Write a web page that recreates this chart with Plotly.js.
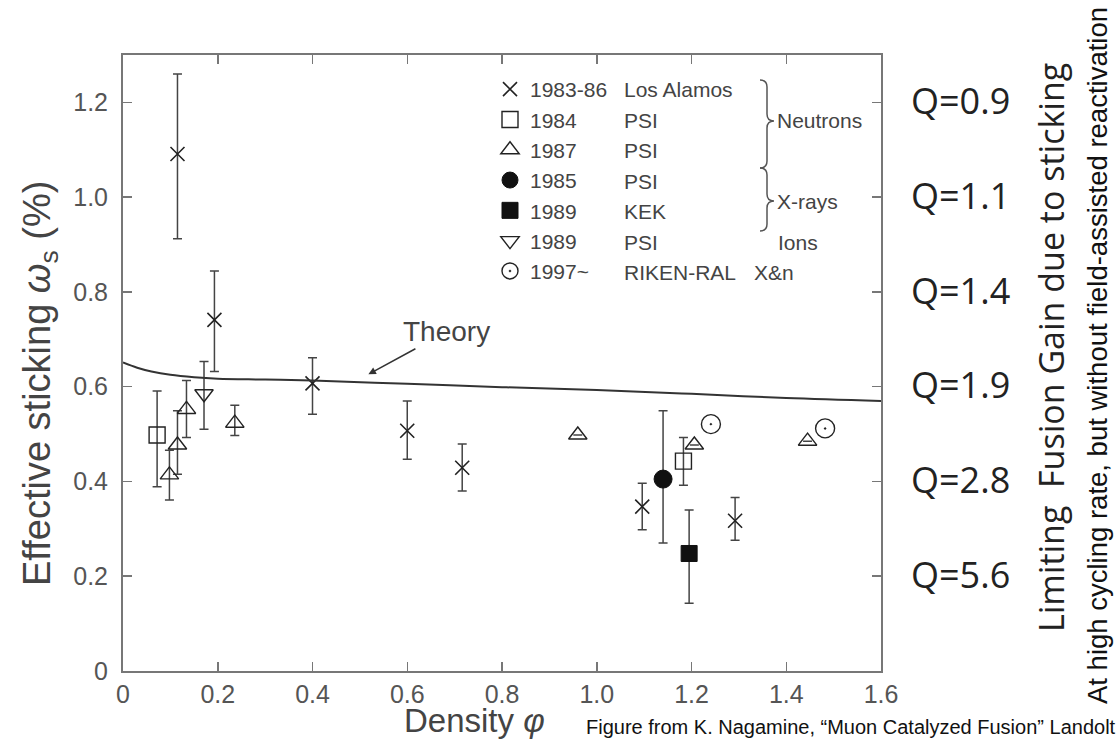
<!DOCTYPE html>
<html>
<head>
<meta charset="utf-8">
<script src="https://cdn.plot.ly/plotly-3.0.1.min.js"></script>
<style>html,body{margin:0;padding:0;background:#fff;}#chart{width:1117px;height:740px;}</style>
</head>
<body>
<div id="chart"></div>
<script>
// ---------------- data ----------------
const xTickVals = [0, 0.2, 0.4, 0.6, 0.8, 1.0, 1.2, 1.4, 1.6];
const xTickText = ["0", "0.2", "0.4", "0.6", "0.8", "1.0", "1.2", "1.4", "1.6"];
const yTickVals = [0, 0.2, 0.4, 0.6, 0.8, 1.0, 1.2];
const yTickText = ["0", "0.2", "0.4", "0.6", "0.8", "1.0", "1.2"];

const qLabels = ["Q=0.9", "Q=1.1", "Q=1.4", "Q=1.9", "Q=2.8", "Q=5.6"];
const qAtSticking = [1.2, 1.0, 0.8, 0.6, 0.4, 0.2];

const seriesYears = ["1983-86", "1984", "1987", "1985", "1989", "1989", "1997~"];
const seriesLabs = ["Los Alamos", "PSI", "PSI", "PSI", "KEK", "PSI", "RIKEN-RAL"];

const losAlamosX = [0.115, 0.193, 0.400, 0.600, 0.716, 1.096, 1.292];
const losAlamosY = [1.091, 0.741, 0.607, 0.507, 0.429, 0.347, 0.317];
const losAlamosErrHi = [0.169, 0.103, 0.054, 0.063, 0.050, 0.049, 0.049];
const losAlamosErrLo = [0.179, 0.109, 0.065, 0.060, 0.049, 0.049, 0.041];

const psi1984X = [0.072, 1.183];
const psi1984Y = [0.498, 0.443];
const psi1984ErrHi = [0.093, 0.050];
const psi1984ErrLo = [0.109, 0.051];

const psi1987X = [0.098, 0.115, 0.134, 0.236, 0.960, 1.206, 1.445];
const psi1987Y = [0.414, 0.477, 0.552, 0.523, 0.498, 0.477, 0.485];
const psi1987ErrHi = [0.052, 0.072, 0.061, 0.038, null, null, null];
const psi1987ErrLo = [0.053, 0.062, 0.059, 0.026, null, null, null];

const psi1985X = [1.140];
const psi1985Y = [0.405];
const psi1985ErrHi = [0.144];
const psi1985ErrLo = [0.135];

const kek1989X = [1.195];
const kek1989Y = [0.248];
const kek1989ErrHi = [0.092];
const kek1989ErrLo = [0.105];

const psi1989X = [0.171];
const psi1989Y = [0.585];
const psi1989ErrHi = [0.068];
const psi1989ErrLo = [0.075];

const rikenX = [1.241, 1.482];
const rikenY = [0.521, 0.512];

const theoryX = [0, 0.03, 0.06, 0.1, 0.15, 0.2, 0.3, 0.4, 0.6, 0.8, 1.0, 1.2, 1.4, 1.6];
const theoryY = [0.651, 0.640, 0.632, 0.625, 0.620, 0.617, 0.615, 0.613, 0.606, 0.599, 0.593, 0.585, 0.576, 0.570];

// ---------------- styling helpers ----------------
const INK = '#222';
const ERR = { color: '#444', thickness: 1.5, width: 4.5 };
function errY(hi, lo) {
  return Object.assign({ type: 'data', symmetric: false, array: hi, arrayminus: lo, visible: true }, ERR);
}

// plot frame in pixels (for layout decorations)
const PL = 123, PR = 881, PT = 55, PB = 671;
const px = X => (X - PL) / (PR - PL);
const py = Y => (PB - Y) / (PB - PT);

const traces = [
  { x: losAlamosX, y: losAlamosY, name: seriesYears[0], mode: 'markers', type: 'scatter',
    marker: { symbol: 'x-thin-open', size: 14, color: INK, line: { color: INK, width: 1.6 } },
    error_y: errY(losAlamosErrHi, losAlamosErrLo) },
  { x: psi1984X, y: psi1984Y, name: seriesYears[1], mode: 'markers', type: 'scatter',
    marker: { symbol: 'square-open', size: 16, color: INK, line: { color: INK, width: 1.4 } },
    error_y: errY(psi1984ErrHi, psi1984ErrLo) },
  { x: psi1987X, y: psi1987Y, name: seriesYears[2], mode: 'markers', type: 'scatter',
    marker: { symbol: 'triangle-up-open', size: 16, color: INK, line: { color: INK, width: 1.4 } },
    error_y: errY(psi1987ErrHi, psi1987ErrLo) },
  { x: psi1985X, y: psi1985Y, name: seriesYears[3], mode: 'markers', type: 'scatter',
    marker: { symbol: 'circle', size: 18, color: '#111', line: { color: '#111', width: 1 } },
    error_y: errY(psi1985ErrHi, psi1985ErrLo) },
  { x: kek1989X, y: kek1989Y, name: seriesYears[4], mode: 'markers', type: 'scatter',
    marker: { symbol: 'square', size: 16, color: '#111', line: { color: '#111', width: 1 } },
    error_y: errY(kek1989ErrHi, kek1989ErrLo) },
  { x: psi1989X, y: psi1989Y, name: seriesYears[5], mode: 'markers', type: 'scatter',
    marker: { symbol: 'triangle-down-open', size: 16, color: INK, line: { color: INK, width: 1.4 } },
    error_y: errY(psi1989ErrHi, psi1989ErrLo) },
  { x: rikenX, y: rikenY, name: seriesYears[6], mode: 'markers', type: 'scatter',
    marker: { symbol: 'circle-open-dot', size: 19, color: INK, line: { color: INK, width: 1.4 } } },
  { x: theoryX, y: theoryY, name: 'Theory', mode: 'lines', type: 'scatter', showlegend: false,
    line: { color: '#333', width: 2, shape: 'spline' } }
];

// legend row centres (pixels) for the lab column
const rowY = [89, 120, 150.5, 181, 211.5, 242, 272.5];
const LEG_FONT = { family: 'Liberation Sans, Arial, sans-serif', size: 21, color: '#444' };

const annotations = [];
seriesLabs.forEach((lab, i) => {
  annotations.push({ xref: 'paper', yref: 'paper', x: px(622), y: py(rowY[i]), xanchor: 'left', yanchor: 'middle',
    text: lab, showarrow: false, font: LEG_FONT });
});
annotations.push({ xref: 'paper', yref: 'paper', x: px(775), y: py(121), xanchor: 'left', yanchor: 'middle', text: 'Neutrons', showarrow: false, font: LEG_FONT });
annotations.push({ xref: 'paper', yref: 'paper', x: px(775), y: py(201), xanchor: 'left', yanchor: 'middle', text: 'X-rays', showarrow: false, font: LEG_FONT });
annotations.push({ xref: 'paper', yref: 'paper', x: px(776), y: py(rowY[5]), xanchor: 'left', yanchor: 'middle', text: 'Ions', showarrow: false, font: LEG_FONT });
annotations.push({ xref: 'paper', yref: 'paper', x: px(752), y: py(rowY[6]), xanchor: 'left', yanchor: 'middle', text: 'X&amp;n', showarrow: false, font: LEG_FONT });

// Theory label with arrow
annotations.push({ xref: 'x', yref: 'y', x: 0.518, y: 0.626, axref: 'x', ayref: 'y', ax: 0.683, ay: 0.716,
  text: 'Theory', showarrow: true, arrowhead: 2, arrowsize: 1, arrowwidth: 1.5, arrowcolor: '#333',
  font: { family: 'Liberation Sans, Arial, sans-serif', size: 28, color: '#444' } });

// Q labels on the right
qLabels.forEach((q, i) => {
  annotations.push({ xref: 'paper', yref: 'y', x: px(909), y: qAtSticking[i] + 0.004, xanchor: 'left', yanchor: 'middle',
    text: q, showarrow: false, font: { family: 'Open Sans, Noto Sans, sans-serif', size: 36, color: '#222' } });
});

// axis titles
annotations.push({ xref: 'paper', yref: 'paper', x: px(40), y: py(384), xanchor: 'center', yanchor: 'middle', textangle: -90,
  text: 'Effective sticking <i>ω</i><sub>s</sub> (%)', showarrow: false,
  font: { family: 'Liberation Sans, Arial, sans-serif', size: 38, color: '#444' } });
annotations.push({ xref: 'paper', yref: 'paper', x: px(474), y: py(720), xanchor: 'center', yanchor: 'middle',
  text: 'Density <i>φ</i>', showarrow: false,
  font: { family: 'Liberation Sans, Arial, sans-serif', size: 33, color: '#444' } });

// right side vertical texts
annotations.push({ xref: 'paper', yref: 'paper', x: px(1051), y: py(348), xanchor: 'center', yanchor: 'middle', textangle: -90,
  text: 'Limiting\u00a0 Fusion Gain due to sticking', showarrow: false,
  font: { family: 'Open Sans, Noto Sans, sans-serif', size: 34, color: '#222' } });
annotations.push({ xref: 'paper', yref: 'paper', x: px(1097), y: py(356), xanchor: 'center', yanchor: 'middle', textangle: -90,
  text: 'At high cycling rate, but without field-assisted reactivation', showarrow: false,
  font: { family: 'Liberation Sans Narrow, Arial Narrow, sans-serif', size: 27.5, color: '#111' } });

// caption
annotations.push({ xref: 'paper', yref: 'paper', x: px(584), y: py(727), xanchor: 'left', yanchor: 'middle',
  text: 'Figure from K. Nagamine, \u201cMuon Catalyzed Fusion\u201d Landolt', showarrow: false,
  font: { family: 'Liberation Sans, Arial, sans-serif', size: 20, color: '#111' } });

// braces for grouping
function brace(x0, w, yTop, yMid, yBot) {
  const xm = x0 + w / 2, xp = x0 + w, r = 7;
  const P = (X, Y) => px(X) + ',' + py(Y);
  return 'M' + P(x0, yTop) + ' Q' + P(xm, yTop) + ' ' + P(xm, yTop + r) +
    ' L' + P(xm, yMid - r) + ' Q' + P(xm, yMid) + ' ' + P(xp, yMid) +
    ' Q' + P(xm, yMid) + ' ' + P(xm, yMid + r) +
    ' L' + P(xm, yBot - r) + ' Q' + P(xm, yBot) + ' ' + P(x0, yBot);
}
const shapes = [
  { type: 'path', xref: 'paper', yref: 'paper', path: brace(760, 14, 80, 121, 168), line: { color: '#555', width: 1.5 } },
  { type: 'path', xref: 'paper', yref: 'paper', path: brace(760, 14, 168, 201, 231), line: { color: '#555', width: 1.5 } }
];

const axisCommon = {
  showline: true, linecolor: '#777', linewidth: 2, mirror: 'ticks',
  ticks: 'inside', ticklen: 9, tickwidth: 1.5, tickcolor: '#777',
  showgrid: false, zeroline: false, tickmode: 'array',
  tickfont: { family: 'Liberation Sans, Arial, sans-serif', size: 25, color: '#555' }
};

const layout = {
  width: 1117, height: 740,
  paper_bgcolor: '#fff', plot_bgcolor: '#fff',
  margin: { l: PL, r: 1117 - PR, t: PT, b: 740 - PB, pad: 0 },
  showlegend: true,
  legend: { x: px(490), y: py(69), xanchor: 'left', yanchor: 'top', bgcolor: 'rgba(0,0,0,0)',
    font: LEG_FONT, itemclick: false, traceorder: 'normal' },
  xaxis: Object.assign({}, axisCommon, { range: [0, 1.6], tickvals: xTickVals, ticktext: xTickText, ticklabelstandoff: 0 }),
  yaxis: Object.assign({}, axisCommon, { range: [0, 1.3], tickvals: yTickVals, ticktext: yTickText, ticklabelstandoff: 8 }),
  annotations: annotations,
  shapes: shapes
};

Plotly.newPlot('chart', traces, layout, { displayModeBar: false, staticPlot: true });
</script>
</body>
</html>
